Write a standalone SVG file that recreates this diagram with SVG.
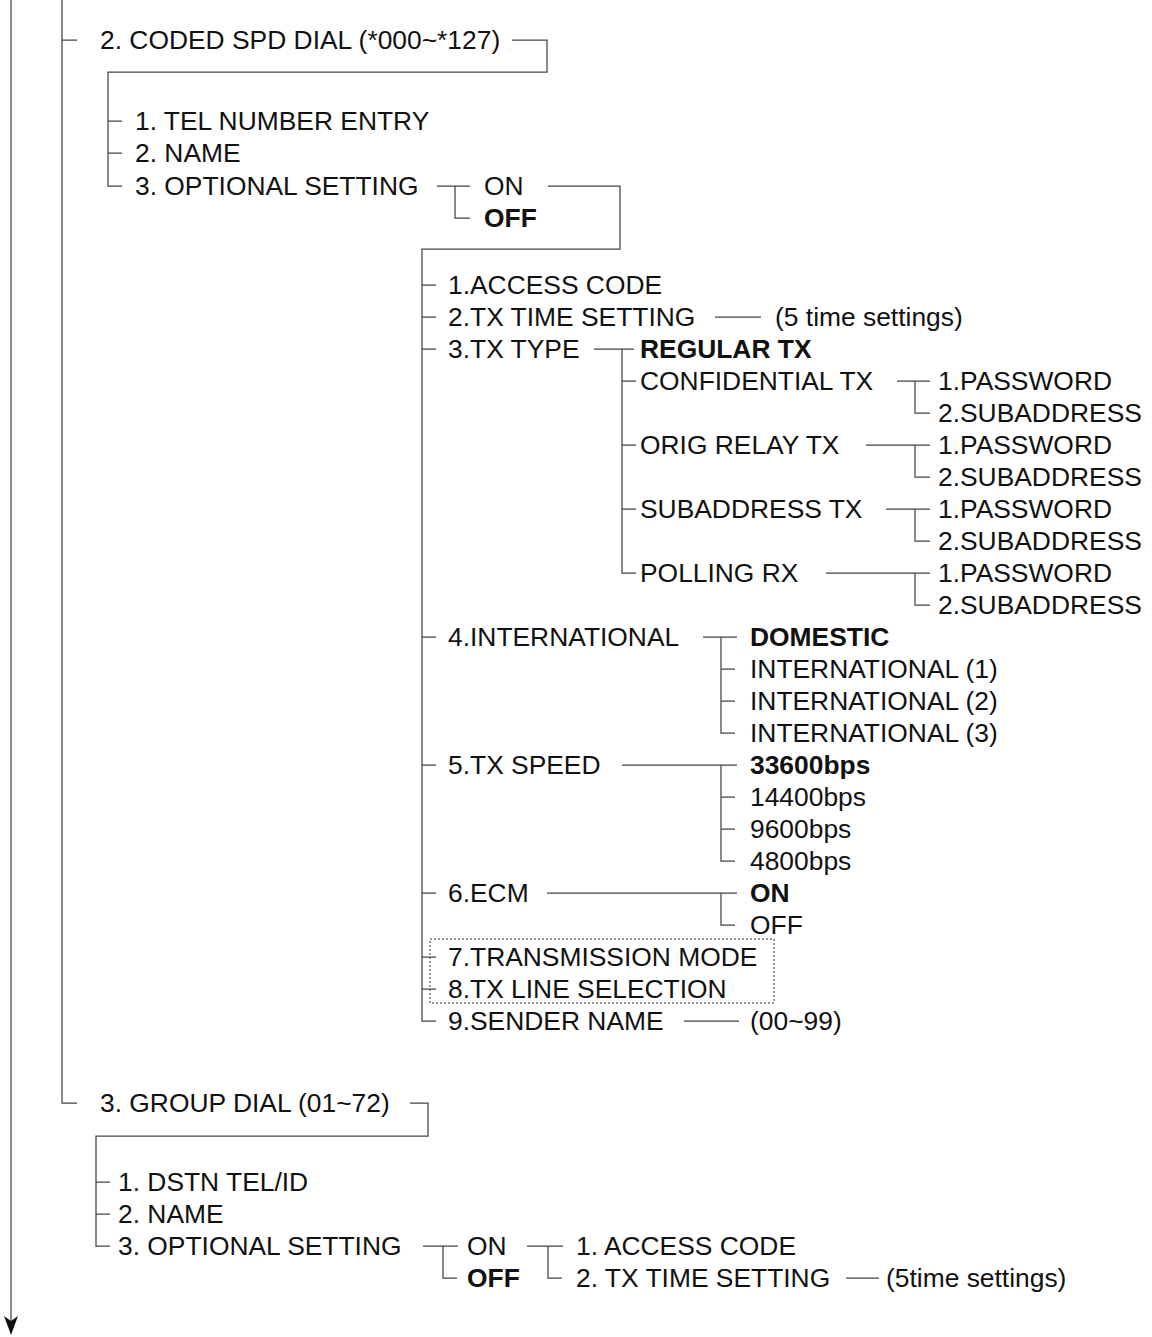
<svg xmlns="http://www.w3.org/2000/svg" width="1152" height="1337" viewBox="0 0 1152 1337">
<style>
text{font-family:"Liberation Sans",Arial,Helvetica,sans-serif;font-size:26.4px;fill:#111}
.b{font-weight:bold}
.c{fill:none;stroke:#444;stroke-width:1.25}
.d{fill:none;stroke:#333;stroke-width:1;stroke-dasharray:2 2}
</style>
<rect width="1152" height="1337" fill="#fff"/>
<g id="connectors" class="c">
<path d="M11 0V1324"/>
<path d="M62 0V1103H77M62 40H77"/>
<path d="M512 40H547V72H108V186H122M108 121H122M108 153H122"/>
<path d="M437 186H470M455 186V218H470"/>
<path d="M548 186H620V249H422V1021H436"/>
<path d="M422 285H436M422 317H436M422 349H436M422 637H436M422 765H436M422 893H436M422 957H436M422 989H436"/>
<path d="M715 317H761"/>
<path d="M594 349H634M622 349V573H636M622 381H636M622 445H636M622 509H636"/>
<path d="M897 381H930M915 381V413H930"/>
<path d="M866 445H930M915 445V477H930"/>
<path d="M886 509H930M915 509V541H930"/>
<path d="M826 573H930M915 573V605H930"/>
<path d="M703 637H737M721 637V733H735M721 669H735M721 701H735"/>
<path d="M622 765H737M721 765V861H735M721 797H735M721 829H735"/>
<path d="M547 893H737M721 893V925H735"/>
<path d="M684 1021H739"/>
<path d="M410 1103H428V1136H96V1246H110M96 1182H110M96 1214H110"/>
<path d="M423 1246H458M443 1246V1278H457"/>
<path d="M527 1246H563M548 1246V1278H562"/>
<path d="M846 1278H879"/>
<path d="M4 1316L11 1321L18 1316L11 1335Z" fill="#111" stroke="none"/>
</g>
<rect id="dotbox" class="d" x="430" y="939" width="344" height="64"/>
<g id="n_coded"><text x="100" y="49">2. CODED SPD DIAL (*000~*127)</text></g>
<g id="n_tel"><text x="135" y="130">1. TEL NUMBER ENTRY</text></g>
<g id="n_name"><text x="135" y="162">2. NAME</text></g>
<g id="n_opt"><text x="135" y="195">3. OPTIONAL SETTING</text></g>
<g id="n_on"><text x="484" y="195">ON</text></g>
<g id="n_off"><text class="b" x="484" y="227">OFF</text></g>
<g id="n_access"><text x="448" y="294">1.ACCESS CODE</text></g>
<g id="n_txtime"><text x="448" y="326">2.TX TIME SETTING</text></g>
<g id="n_5time"><text x="775" y="326">(5 time settings)</text></g>
<g id="n_txtype"><text x="448" y="358">3.TX TYPE</text></g>
<g id="n_regular"><text class="b" x="640" y="358">REGULAR TX</text></g>
<g id="n_conf"><text x="640" y="390">CONFIDENTIAL TX</text></g>
<g id="n_conf_pw"><text x="938" y="390">1.PASSWORD</text></g>
<g id="n_conf_sa"><text x="938" y="422">2.SUBADDRESS</text></g>
<g id="n_orig"><text x="640" y="454">ORIG RELAY TX</text></g>
<g id="n_orig_pw"><text x="938" y="454">1.PASSWORD</text></g>
<g id="n_orig_sa"><text x="938" y="486">2.SUBADDRESS</text></g>
<g id="n_subtx"><text x="640" y="518">SUBADDRESS TX</text></g>
<g id="n_sub_pw"><text x="938" y="518">1.PASSWORD</text></g>
<g id="n_sub_sa"><text x="938" y="550">2.SUBADDRESS</text></g>
<g id="n_poll"><text x="640" y="582">POLLING RX</text></g>
<g id="n_poll_pw"><text x="938" y="582">1.PASSWORD</text></g>
<g id="n_poll_sa"><text x="938" y="614">2.SUBADDRESS</text></g>
<g id="n_intl"><text x="448" y="646">4.INTERNATIONAL</text></g>
<g id="n_dom"><text class="b" x="750" y="646">DOMESTIC</text></g>
<g id="n_int1"><text x="750" y="678">INTERNATIONAL (1)</text></g>
<g id="n_int2"><text x="750" y="710">INTERNATIONAL (2)</text></g>
<g id="n_int3"><text x="750" y="742">INTERNATIONAL (3)</text></g>
<g id="n_speed"><text x="448" y="774">5.TX SPEED</text></g>
<g id="n_33600"><text class="b" x="750" y="774">33600bps</text></g>
<g id="n_14400"><text x="750" y="806">14400bps</text></g>
<g id="n_9600"><text x="750" y="838">9600bps</text></g>
<g id="n_4800"><text x="750" y="870">4800bps</text></g>
<g id="n_ecm"><text x="448" y="902">6.ECM</text></g>
<g id="n_ecm_on"><text class="b" x="750" y="902">ON</text></g>
<g id="n_ecm_off"><text x="750" y="934">OFF</text></g>
<g id="n_txmode"><text x="448" y="966">7.TRANSMISSION MODE</text></g>
<g id="n_txline"><text x="448" y="998">8.TX LINE SELECTION</text></g>
<g id="n_sender"><text x="448" y="1030">9.SENDER NAME</text></g>
<g id="n_0099"><text x="750" y="1030">(00~99)</text></g>
<g id="n_group"><text x="100" y="1112">3. GROUP DIAL (01~72)</text></g>
<g id="n_dstn"><text x="118" y="1191">1. DSTN TEL/ID</text></g>
<g id="n_gname"><text x="118" y="1223">2. NAME</text></g>
<g id="n_gopt"><text x="118" y="1255">3. OPTIONAL SETTING</text></g>
<g id="n_gon"><text x="467" y="1255">ON</text></g>
<g id="n_goff"><text class="b" x="467" y="1287">OFF</text></g>
<g id="n_gaccess"><text x="576" y="1255">1. ACCESS CODE</text></g>
<g id="n_gtxtime"><text x="576" y="1287">2. TX TIME SETTING</text></g>
<g id="n_g5time"><text x="886" y="1287">(5time settings)</text></g>
</svg>
